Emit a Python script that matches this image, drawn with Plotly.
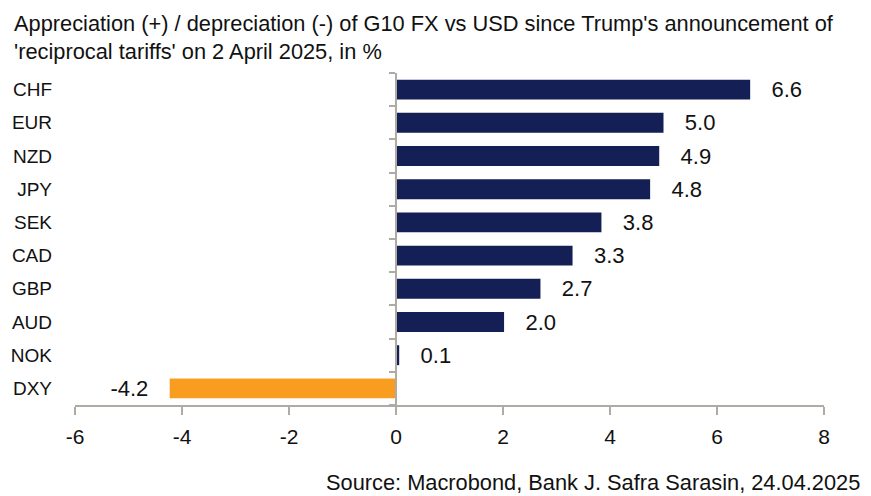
import plotly.graph_objects as go

categories = ["CHF", "EUR", "NZD", "JPY", "SEK", "CAD", "GBP", "AUD", "NOK", "DXY"]
values = [6.62, 5.0, 4.92, 4.75, 3.84, 3.3, 2.7, 2.02, 0.06, -4.23]
x_ticks = [-6, -4, -2, 0, 2, 4, 6, 8]
x_tick_labels = ["-6", "-4", "-2", "0", "2", "4", "6", "8"]

NAVY = "#141f55"
ORANGE = "#f99d20"
GREY = "#b0aaa4"
FONT = "Liberation Sans"

colors = [ORANGE if c == "DXY" else NAVY for c in categories]
texts = [("   %.1f" % v) if v >= 0 else ("%.1f   " % v) for v in values]

W, H = 863, 488
L, R, T, B = 67, 47, 65, 91
PW, PH = W - L - R, H - T - B

fig = go.Figure()
fig.add_trace(go.Bar(
    x=values, y=categories, orientation="h",
    marker=dict(color=colors, line=dict(width=0)),
    width=0.6,
    text=texts, textposition="outside", cliponaxis=False, constraintext="none",
    textfont=dict(family=FONT, size=22, color="#111111"),
    hoverinfo="skip",
))
fig.add_trace(go.Scatter(x=[0], y=[0], yaxis="y2", mode="markers",
                         marker=dict(opacity=0), hoverinfo="skip", showlegend=False))

fig.update_layout(
    width=W, height=H,
    margin=dict(l=L, r=R, t=T, b=B),
    paper_bgcolor="white", plot_bgcolor="white",
    showlegend=False,
    font=dict(family=FONT, color="#111111"),
    xaxis=dict(
        range=[-6, 8], tickvals=x_ticks, ticktext=x_tick_labels,
        showgrid=False, zeroline=False, automargin=False,
        showline=True, linecolor=GREY, linewidth=1.5,
        ticks="outside", ticklen=8, tickcolor=GREY, tickwidth=1.5,
        ticklabelstandoff=4,
        tickfont=dict(size=21, family=FONT, color="#111111"),
    ),
    yaxis=dict(
        categoryorder="array", categoryarray=categories, autorange="reversed",
        showgrid=False, zeroline=False, showline=False, ticks="", automargin=False,
        ticklabelstandoff=22,
        tickfont=dict(size=19, family=FONT, color="#111111"),
    ),
    yaxis2=dict(
        overlaying="y", anchor="free", position=6/14, side="left", automargin=False,
        range=[9.5, -0.5], tickvals=[i - 0.5 for i in range(11)],
        showticklabels=False, showgrid=False, zeroline=False,
        showline=True, linecolor=GREY, linewidth=1.5,
        ticks="outside", ticklen=6, tickcolor=GREY, tickwidth=1.5,
    ),
    annotations=[
        dict(text="Appreciation (+) / depreciation (-) of G10 FX vs USD since Trump's announcement of<br>'reciprocal tariffs' on 2 April 2025, in %",
             xref="paper", yref="paper", x=-(L - 4) / PW, y=1 + (T - 1) / PH, xanchor="left", yanchor="top",
             align="left", showarrow=False, font=dict(size=21.8, family=FONT, color="#111111")),
        dict(text="Source: Macrobond, Bank J. Safra Sarasin, 24.04.2025",
             xref="paper", yref="paper", x=1 + 38 / PW, y=-(B + 1) / PH, xanchor="right", yanchor="bottom",
             showarrow=False, font=dict(size=21.8, family=FONT, color="#111111")),
    ],
)

fig.write_html("out.html")
